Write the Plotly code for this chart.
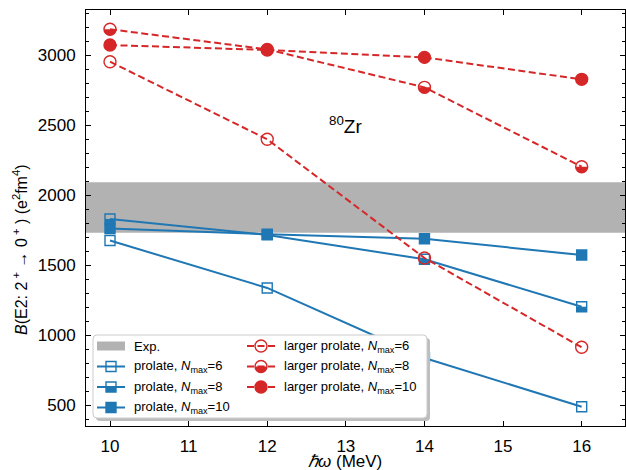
import numpy as np
import plotly.graph_objects as go

# ---------------- data ----------------
hw = [10, 12, 14, 16]
prolate_n6 = [1675, 1336, 836, 488]
prolate_n8 = [1829, 1715, 1541, 1202]
prolate_n10 = [1760, 1720, 1688, 1571]
larger_n6 = [2952, 2398, 1550, 912]
larger_n8 = [3184, 3040, 2769, 2202]
larger_n10 = [3071, 3036, 2983, 2826]
exp_band = [1731, 2091]

x_ticks = [10, 11, 12, 13, 14, 15, 16]
y_ticks = [500, 1000, 1500, 2000, 2500, 3000]

BLUE = "#1f77b4"
RED = "#d62728"
GRAY = "#b2b2b2"
FONT = "Liberation Sans, Arial, sans-serif"

# figure geometry
FW, FH = 626, 470
ML, MR, MT, MB = 86, 1, 10, 44
PW, PH = FW - ML - MR, FH - MT - MB

XR = [9.6947, 16.551]
YR = [350, 3321.4]

SQ = 10    # square marker size
CI = 12    # circle marker size
MLW = 1.4  # marker edge width

fig = go.Figure()

# experimental band
fig.add_shape(type="rect", xref="paper", x0=0, x1=1, yref="y",
              y0=exp_band[0], y1=exp_band[1], fillcolor=GRAY,
              line=dict(width=0), layer="below")


def add_series(y, color, symbol, size, dash):
    fig.add_trace(go.Scatter(
        x=hw, y=y, mode="lines+markers", showlegend=False,
        line=dict(color=color, width=2, dash=dash),
        marker=dict(symbol=symbol, size=size, color=color,
                    line=dict(color=color, width=MLW)),
    ))


def half_square_path(s):
    return f"M{-s},{-s} L{s},{-s} L{s},0 L{-s},0 Z"


def half_circle_path(r, n=24):
    pts = []
    for k in range(n + 1):
        a = np.pi + np.pi * k / n   # from left, through bottom, to right
        pts.append((r * np.cos(a), r * np.sin(a)))
    s = "M" + " L".join(f"{px:.2f},{py:.2f}" for px, py in pts) + " Z"
    return s


def add_half_fill(y, color, path, layer="below"):
    for xv, yv in zip(hw, y):
        fig.add_shape(type="path", xref="x", yref="y",
                      xsizemode="pixel", ysizemode="pixel",
                      xanchor=xv, yanchor=yv, path=path,
                      fillcolor=color, line=dict(width=0), layer=layer)


add_series(prolate_n6, BLUE, "square-open", SQ, "solid")
add_series(prolate_n8, BLUE, "square-open", SQ, "solid")
add_half_fill(prolate_n8, BLUE, half_square_path(SQ / 2))
add_series(prolate_n10, BLUE, "square", SQ, "solid")
DASH = "7px,3.5px"
add_series(larger_n6, RED, "circle-open", CI, DASH)
add_series(larger_n8, RED, "circle-open", CI, DASH)
add_half_fill(larger_n8, RED, half_circle_path(CI / 2))
add_series(larger_n10, RED, "circle", CI, DASH)

# nucleus label
fig.add_annotation(x=13, y=2500, xref="x", yref="y",
                   text="<sup>80</sup>Zr", showarrow=False,
                   font=dict(family=FONT, size=19, color="black"),
                   xanchor="center", yanchor="middle")

# ---------------- manual legend (pixel coords inside plot area) ----------------
def X(px):
    return px - ML


def Y(py):
    return (MT + PH) - py


def rrect(x0, y0, x1, y1, r):
    return (f"M{x0 + r},{y0} L{x1 - r},{y0} Q{x1},{y0} {x1},{y0 + r} "
            f"L{x1},{y1 - r} Q{x1},{y1} {x1 - r},{y1} L{x0 + r},{y1} "
            f"Q{x0},{y1} {x0},{y1 - r} L{x0},{y0 + r} Q{x0},{y0} {x0 + r},{y0} Z")


def pshape(**kw):
    base = dict(xref="paper", yref="paper", xsizemode="pixel",
                ysizemode="pixel", xanchor=0, yanchor=0, layer="above")
    base.update(kw)
    fig.add_shape(**base)


LX0, LX1, LT, LB = 93, 427, 335, 418
pshape(type="path", path=rrect(X(LX0) + 3, Y(LB) - 3, X(LX1) + 3, Y(LT) - 3, 4),
       fillcolor="#bdbdbd", line=dict(width=0))
pshape(type="path", path=rrect(X(LX0), Y(LB), X(LX1), Y(LT), 4),
       fillcolor="white", line=dict(color="#cccccc", width=1))

rows = [346, 366.5, 387, 407.5]
c1 = (97, 125, 131.5)
c2 = (247, 275, 281.5)


def shift_path(pth, dx, dy):
    out = []
    for tok in pth.replace("M", "M ").replace("L", "L ").split():
        if "," in tok:
            a, b = tok.split(",")
            out.append(f"{float(a) + dx:.2f},{float(b) + dy:.2f}")
        else:
            out.append(tok)
    return " ".join(out).replace("M ", "M").replace("L ", "L")


def handle_line(col, row, color, dash):
    pshape(type="line", x0=X(col[0]), x1=X(col[1]), y0=Y(row), y1=Y(row),
           line=dict(color=color, width=2, dash=dash))


def handle_marker(col, row, kind, filled, half, color):
    cx, cy = X((col[0] + col[1]) / 2), Y(row)
    s = (SQ if kind == "rect" else CI) / 2
    pshape(type="rect" if kind == "rect" else "circle",
           x0=cx - s, x1=cx + s, y0=cy - s, y1=cy + s,
           fillcolor=color if filled else "rgba(0,0,0,0)",
           line=dict(color=color, width=MLW))
    if half:
        pth = half_square_path(s) if kind == "rect" else half_circle_path(s)
        pshape(type="path", path=shift_path(pth, cx, cy),
               fillcolor=color, line=dict(width=0))


def label(col, row, text):
    fig.add_annotation(xref="paper", yref="paper",
                       x=X(col[2]) / PW, y=Y(row) / PH, text=text,
                       showarrow=False, xanchor="left", yanchor="middle",
                       font=dict(family=FONT, size=13, color="black"))


# Exp.
pshape(type="rect", x0=X(97), x1=X(125), y0=Y(rows[0] + 4.5), y1=Y(rows[0] - 4.5),
       fillcolor=GRAY, line=dict(width=0))
label(c1, rows[0], "Exp.")
NM = "<i>N</i><sub>max</sub>"
for i, (n, filled, half) in enumerate([(6, False, False), (8, False, True), (10, True, False)]):
    r = rows[i + 1]
    handle_line(c1, r, BLUE, "solid")
    handle_marker(c1, r, "rect", filled, half, BLUE)
    label(c1, r, f"prolate, {NM}={n}")
    r2 = rows[i]
    handle_line(c2, r2, RED, DASH)
    handle_marker(c2, r2, "circle", filled, half, RED)
    label(c2, r2, f"larger prolate, {NM}={n}")

# ---------------- axis titles (as annotations for exact placement) ----------------
NB = "\u00a0"
fig.add_annotation(xref="paper", yref="paper", x=(20 - ML) / PW, y=Y(250) / PH,
                   text=(f"<i>B</i>(E2: 2<sup>{NB}+</sup>{NB}→{NB}0<sup>{NB}+</sup>{NB}) "
                         "(e<sup>2</sup>fm<sup>4</sup>)"),
                   textangle=-90, showarrow=False, xanchor="center", yanchor="middle",
                   font=dict(family=FONT, size=16, color="black"))
fig.add_annotation(xref="paper", yref="paper", x=(345 - ML) / PW, y=Y(462) / PH,
                   text="<i>ℏω</i> (MeV)", showarrow=False,
                   xanchor="center", yanchor="middle",
                   font=dict(family=FONT, size=17, color="black"))

# ---------------- axes ----------------
axis_common = dict(showline=True, linecolor="black", linewidth=1, mirror="ticks",
                   ticks="inside", ticklen=5, tickwidth=1, tickcolor="black",
                   showgrid=False, zeroline=False,
                   tickfont=dict(family=FONT, size=17, color="black"))

fig.update_xaxes(range=XR, tickmode="array", tickvals=x_ticks,
                 ticklabelstandoff=5, **axis_common)
fig.update_yaxes(range=YR, tickmode="array", tickvals=y_ticks,
                 ticklabelstandoff=6,
                 minor=dict(tickmode="linear", tick0=0, dtick=100, ticks="inside",
                            ticklen=3, tickcolor="black", showgrid=False),
                 **axis_common)

fig.update_layout(width=FW, height=FH,
                  margin=dict(l=ML, r=MR, t=MT, b=MB, autoexpand=False),
                  plot_bgcolor="white", paper_bgcolor="white",
                  showlegend=False)

fig.write_html("out.html", config={"displayModeBar": False},
               post_script="document.body.style.margin='0';"
                           "document.body.style.overflow='hidden';")
